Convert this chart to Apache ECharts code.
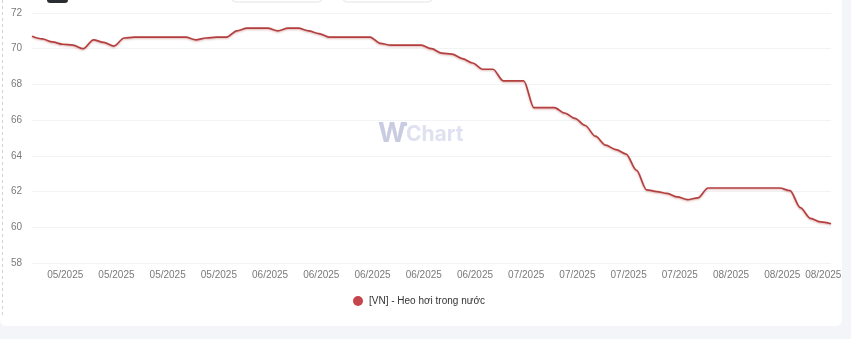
<!DOCTYPE html>
<html>
<head>
<meta charset="utf-8">
<script src="https://cdn.jsdelivr.net/npm/echarts@6/dist/echarts.min.js"></script>
<style>
  html, body { margin: 0; padding: 0; background: #ffffff; }
  #chart { width: 851px; height: 339px; }
</style>
</head>
<body>
<div id="chart"></div>
<script>
// Trading days (Mon–Fri), 30/04/2025 → 18/08/2025
const startDate = '2025-04-30';
const endDate = '2025-08-18';

// Live hog price, domestic (thousand VND / kg)
const hogPrice = [
  70.7, 70.55, 70.38, 70.25, 70.2, 70.0, 70.5, 70.35, 70.15, 70.6,
  70.65, 70.65, 70.65, 70.65, 70.65, 70.65, 70.5, 70.6, 70.65, 70.65,
  71.0, 71.15, 71.15, 71.15, 71.0, 71.15, 71.15, 71.0, 70.85, 70.65,
  70.65, 70.65, 70.65, 70.65, 70.3, 70.2, 70.2, 70.2, 70.2, 70.0,
  69.75, 69.7, 69.45, 69.2, 68.85, 68.85, 68.2, 68.2, 68.2, 66.7,
  66.7, 66.7, 66.4, 66.1, 65.7, 65.1, 64.6, 64.35, 64.1, 63.2,
  62.1, 62.0, 61.9, 61.7, 61.55, 61.65, 62.2, 62.2, 62.2, 62.2,
  62.2, 62.2, 62.2, 62.2, 62.05, 61.1, 60.5, 60.3, 60.2
];

const seriesName = '[VN] - Heo hơi trong nước';
const yTicks = { min: 58, max: 72, step: 2 };
const labelFirst = 3;     // first labelled day
const labelEvery = 5;     // one label per week
const labelLast = 77;     // closing label

// Build the weekday calendar
function weekdays(from, to) {
  const out = [];
  const d = new Date(from + 'T00:00:00Z');
  const end = new Date(to + 'T00:00:00Z');
  while (d <= end) {
    const wd = d.getUTCDay();
    if (wd !== 0 && wd !== 6) {
      const mm = String(d.getUTCMonth() + 1).padStart(2, '0');
      const dd = String(d.getUTCDate()).padStart(2, '0');
      out.push(d.getUTCFullYear() + '-' + mm + '-' + dd);
    }
    d.setUTCDate(d.getUTCDate() + 1);
  }
  return out;
}
const dates = weekdays(startDate, endDate);

const chart = echarts.init(document.getElementById('chart'), null, { renderer: 'canvas' });

const FONT = '"Liberation Sans", Arial, sans-serif';
const MARK_FONT = 'Inter, "Noto Sans", sans-serif';

chart.setOption({
  animation: false,
  backgroundColor: '#ffffff',
  textStyle: { fontFamily: FONT },
  grid: { left: 32, right: 20, top: 13, bottom: 76, containLabel: false },
  legend: {
    data: [seriesName],
    left: 348,
    top: 291,
    icon: 'circle',
    itemWidth: 10,
    itemHeight: 10,
    itemGap: 6,
    textStyle: { color: '#333333', fontSize: 10, fontFamily: FONT, padding: [0, 0, 0, 1] }
  },
  xAxis: {
    type: 'category',
    data: dates,
    boundaryGap: false,
    axisLine: { show: false },
    axisTick: { show: false },
    splitLine: { show: false },
    axisLabel: {
      color: '#7a7a7a',
      fontSize: 10,
      fontFamily: FONT,
      margin: 7,
      padding: [0, 0, 0, 5],
      interval: function (idx) {
        return (idx >= labelFirst && (idx - labelFirst) % labelEvery === 0) || idx === labelLast;
      },
      formatter: function (v) {
        const p = v.split('-');
        return p[1] + '/' + p[0];
      }
    }
  },
  yAxis: {
    type: 'value',
    min: yTicks.min,
    max: yTicks.max,
    interval: yTicks.step,
    axisLine: { show: false },
    axisTick: { show: false },
    axisLabel: { color: '#7a7a7a', fontSize: 10, fontFamily: FONT, margin: 10 },
    splitLine: { lineStyle: { color: '#f2f3f5', width: 1 } }
  },
  graphic: [
    // page background around the card
    { type: 'rect', z: -10, shape: { x: 0, y: 0, width: 851, height: 339 }, style: { fill: '#f4f5f9' } },
    { type: 'rect', z: -9, shape: { x: 0, y: -10, width: 842, height: 336, r: 6 }, style: { fill: '#ffffff' } },
    // dashed left edge
    { type: 'line', z: -8, shape: { x1: 2.5, y1: 0, x2: 2.5, y2: 318 }, style: { stroke: '#cfd2d8', lineWidth: 1, lineDash: [3, 3] } },
    // toolbar remnants at the top edge
    { type: 'rect', shape: { x: 47, y: -8, width: 21, height: 11, r: 3 }, style: { fill: '#2b2d33' } },
    { type: 'rect', shape: { x: 232, y: -12, width: 90, height: 14, r: 4 }, style: { fill: '#ffffff', stroke: '#e2e4e8', lineWidth: 1 } },
    { type: 'rect', shape: { x: 343, y: -12, width: 89, height: 14, r: 4 }, style: { fill: '#ffffff', stroke: '#e2e4e8', lineWidth: 1 } },
    // watermark
    {
      type: 'text', left: 378, top: 120, z: 0,
      style: { text: 'W', fill: '#c9cbe0', font: 'bold 27px ' + MARK_FONT }
    },
    {
      type: 'circle', z: 0, shape: { cx: 405, cy: 124, r: 2.3 }, style: { fill: '#c9cbe0' }
    },
    {
      type: 'text', left: 406, top: 124, z: 0,
      style: { text: 'Chart', fill: '#dfe1f1', font: 'bold 21px ' + MARK_FONT }
    }
  ],
  series: [{
    name: seriesName,
    type: 'line',
    data: hogPrice,
    smooth: 0.3,
    smoothMonotone: 'x',
    showSymbol: false,
    symbol: 'circle',
    itemStyle: { color: '#c4454a' },
    lineStyle: {
      color: '#b3403f',
      width: 1.7,
      shadowColor: 'rgba(160, 40, 40, 0.35)',
      shadowBlur: 2,
      shadowOffsetY: 1
    },
    z: 3
  }]
});
</script>
</body>
</html>
